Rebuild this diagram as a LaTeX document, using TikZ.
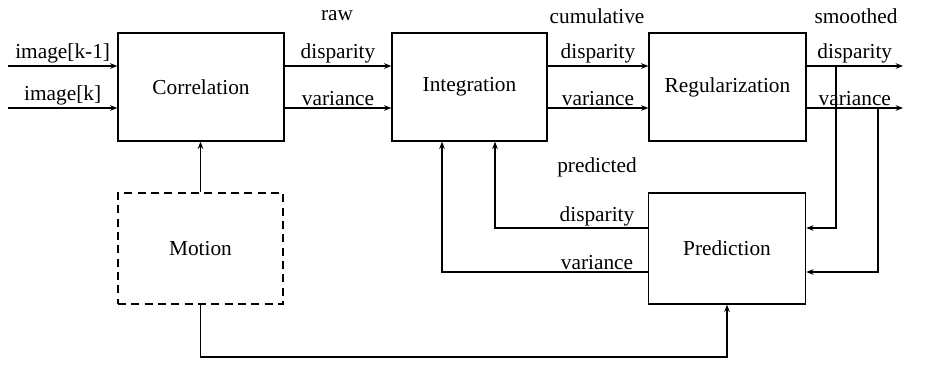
\documentclass[tikz,border=0pt]{standalone}
\usepackage{fontspec}
\setmainfont{Liberation Serif}
\usetikzlibrary{arrows.meta,positioning,calc}

\tikzset{
	blockbox/.style={draw, line width=0.9pt, minimum width=118pt, minimum height=81pt, inner sep=0pt},
	motionbox/.style={blockbox, dashed, dash pattern=on 6pt off 4pt},
	arr/.style={line width=0.9pt, -{Stealth[length=5.5pt,width=4.2pt]}},
	lbl/.style={inner sep=1.5pt}
}

\begin{document}
\begin{tikzpicture}[x=0.75pt,y=0.75pt,yscale=-1,xscale=1,font=\fontsize{16}{19}\selectfont]
	\useasboundingbox (0,0) rectangle (932,365);

	% blocks
	\node[blockbox, minimum width=124.5pt] (corr) at (201,87) {Correlation};
	\node[blockbox, minimum width=116.25pt] (integ) at (469.5,87) {Integration};
	\node[blockbox, minimum width=117.75pt] (reg) at (727.5,87) {Regularization};
	\node[blockbox, minimum height=83.25pt] (pred) at (727,248.5) {Prediction};
	\node[motionbox, minimum width=123.75pt, minimum height=83.25pt] (motion) at (200.5,248.5) {Motion};

	% free ends and rows
	\coordinate (img1) at (8,66);
	\coordinate (img2) at (8,108);
	\coordinate (sdisp) at (903,66);
	\coordinate (svar) at (903,108);
	\coordinate (tapd) at (836,66);
	\coordinate (tapv) at (878,108);
	\coordinate (pdisp) at (495,228);
	\coordinate (pvar) at (442,272);
	\coordinate (base) at (0,357);

	% inputs
	\draw[arr] (img1) -- node[lbl, above] {image[k-1]} (corr.west |- img1);
	\draw[arr] (img2) -- node[lbl, above] {image[k]} (corr.west |- img2);

	% raw
	\draw[arr] (corr.east |- img1) -- node[lbl, above] (rawd) {disparity} (integ.west |- img1);
	\draw[arr] (corr.east |- img2) -- node[lbl, above] {variance} (integ.west |- img2);
	\node (raw) at (337,16) {raw};

	% cumulative
	\draw[arr] (integ.east |- img1) -- node[lbl, above] {disparity} (reg.west |- img1);
	\draw[arr] (integ.east |- img2) -- node[lbl, above] {variance} (reg.west |- img2);
	\node (cumul) at (597,16) {cumulative};

	% smoothed
	\draw[arr] (reg.east |- sdisp) -- node[lbl, above] {disparity} (sdisp);
	\draw[arr] (reg.east |- svar) -- node[lbl, above] {variance} (svar);
	\node (smooth) at (856,16) {smoothed};

	% feedback into prediction
	\draw[arr] (tapd) -- (tapd |- pdisp) -- (pred.east |- pdisp);
	\draw[arr] (tapv) -- (tapv |- pvar) -- (pred.east |- pvar);

	% predicted
	\draw[arr] (pred.west |- pdisp) -- (pdisp) -- (pdisp |- integ.south);
	\draw[arr] (pred.west |- pvar) -- (pvar) -- (pvar |- integ.south);
	\node (predl) at (597,167) {predicted};
	\node[lbl, anchor=south] (predd) at (597,228) {disparity};
	\node[lbl, anchor=south] (predv) at (597,272) {variance};

	% motion
	\draw[arr] (motion.north) -- (motion.north |- corr.south);
	\draw[arr] (motion.south) -- (motion.south |- base) -- (pred.south |- base) -- (pred.south);
\end{tikzpicture}
\end{document}
